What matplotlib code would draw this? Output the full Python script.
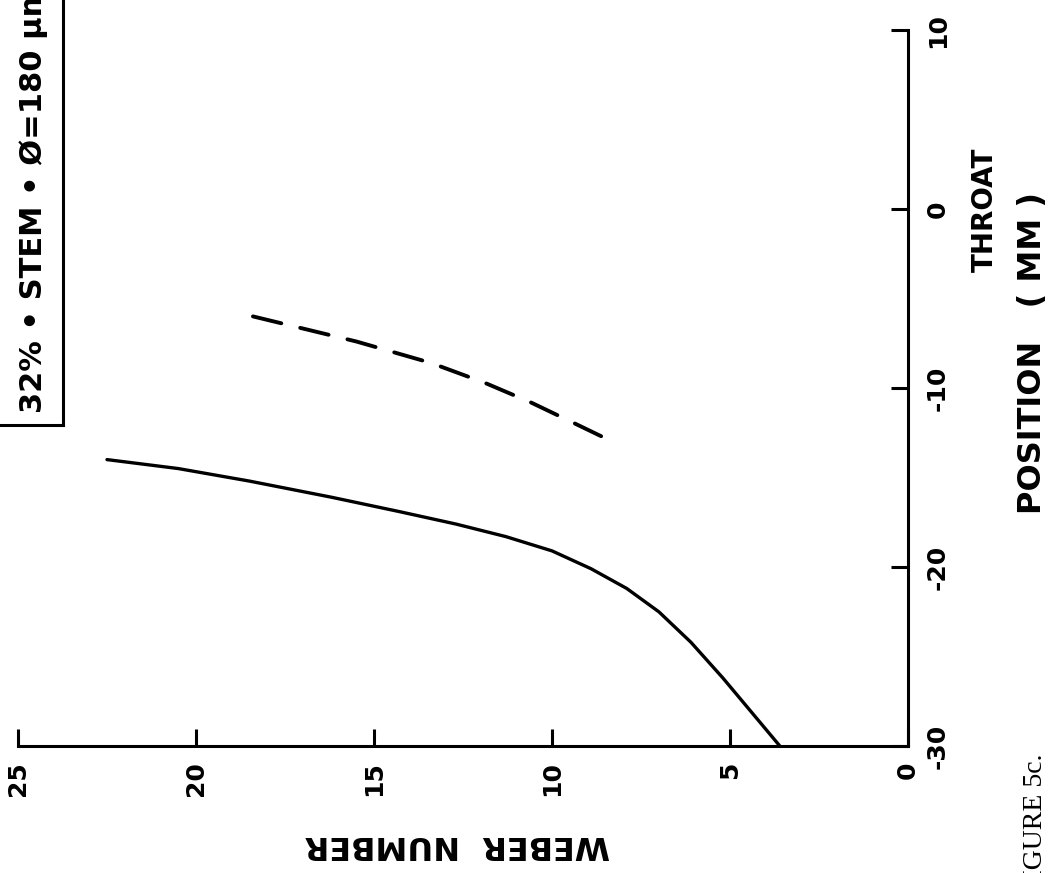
import matplotlib
matplotlib.use('Agg')
import matplotlib.pyplot as plt
from matplotlib.lines import Line2D

plt.rcParams['axes.unicode_minus'] = False
plt.rcParams['font.family'] = ['DejaVu Sans']
plt.rcParams['font.weight'] = 'bold'

# ======================================
# Data read off the (rotated) plot
# ======================================
# Weber number vs axial position (mm), throat at 0
solid_weber = [22.5, 20.5, 18.5, 16.2, 14.3, 12.7, 11.3, 10.0, 8.9, 7.9,
               7.0, 6.1, 5.2, 4.4, 3.6]
solid_pos   = [-14.0, -14.5, -15.2, -16.1, -16.9, -17.6, -18.3, -19.1, -20.1, -21.2,
               -22.5, -24.2, -26.2, -28.1, -30.0]

dash_weber  = [18.4, 15.5, 13.4, 11.9, 10.6, 9.55, 8.3]
dash_pos    = [-6.0, -7.4, -8.6, -9.7, -10.8, -11.8, -13.0]

weber_ticks = [0, 5, 10, 15, 20, 25]
pos_ticks   = [-30, -20, -10, 0, 10]

legend_text = '32% \u2022 STEM \u2022 \u00d8=180 \u00b5m'

W, H = 1063, 873

def fx(px):
    return px / W

def fy(py):
    return 1 - py / H

fig = plt.figure(figsize=(W / 100, H / 100), dpi=100)
ax  = fig.add_axes([fx(18), fy(746), fx(908) - fx(18), fy(30) - fy(746)])

ax.plot(solid_weber, solid_pos, color='black', lw=2.4, solid_capstyle='round')
ax.plot(dash_weber, dash_pos, color='black', lw=2.8, linestyle=(0, (7.5, 5)),
        dash_capstyle='round')

ax.set_xlim(25, 0)
ax.set_ylim(-30, 10)

for s in ['left', 'top']:
    ax.spines[s].set_visible(False)
for s in ['bottom', 'right']:
    ax.spines[s].set_linewidth(2.2)

ax.yaxis.tick_right()
ax.set_xticks(weber_ticks)
ax.set_yticks(pos_ticks)
ax.set_xticklabels([str(t) for t in weber_ticks], rotation=90)
ax.set_yticklabels([str(t) for t in pos_ticks], rotation=90, va='center')
ax.tick_params(axis='x', direction='in', length=12, width=2.2, pad=11, labelsize=18)
ax.tick_params(axis='y', direction='in', length=12, width=2.2, pad=13, labelsize=18)

# axis titles
fig.text(fx(457), fy(845), 'WEBER  NUMBER', rotation=180, ha='center', va='center',
         fontsize=23, fontweight='bold')
fig.text(fx(985), fy(210), 'THROAT', rotation=90, ha='center', va='center',
         fontsize=20, fontweight='bold')
fig.text(fx(1032), fy(353), 'POSITION   ( MM )', rotation=90, ha='center', va='center',
         fontsize=23, fontweight='bold')

# legend box, cut off by the page edge
fig.add_artist(Line2D([fx(63), fx(63)], [fy(0), fy(425)], color='black', lw=2.2))
fig.add_artist(Line2D([fx(0), fx(63)], [fy(425), fy(425)], color='black', lw=2.2))
fig.text(fx(34), fy(413), legend_text, rotation=90, rotation_mode='anchor',
         ha='left', va='center', fontsize=22, fontweight='bold')

# caption, cut off at the bottom
fig.text(fx(1036), fy(753), 'FIGURE 5c.', rotation=90, rotation_mode='anchor',
         ha='right', va='center', fontsize=20, fontweight='normal',
         family='Liberation Serif')

fig.savefig('out.png', dpi=100)
